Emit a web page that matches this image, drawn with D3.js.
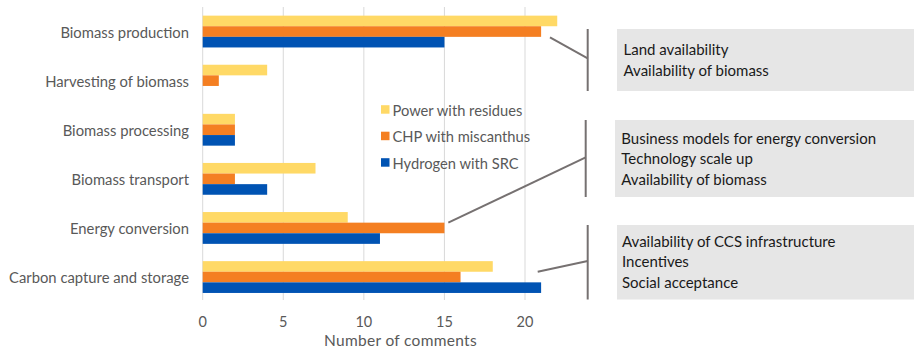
<!DOCTYPE html>
<html>
<head>
<meta charset="utf-8">
<script src="https://cdn.jsdelivr.net/npm/d3@7"></script>
<style>
  html, body { margin: 0; padding: 0; background: #fff; }
  svg { display: block; }
  text { font-family: Lato, "Open Sans", sans-serif; }
</style>
</head>
<body>
<svg id="chart" width="914" height="348"></svg>
<script>
// ---- data ----
const categories = ["Biomass production", "Harvesting of biomass", "Biomass processing",
                    "Biomass transport", "Energy conversion", "Carbon capture and storage"];
const seriesNames = ["Power with residues", "CHP with miscanthus", "Hydrogen with SRC"];
const powerResidues = [22, 4, 2, 7, 9, 18];
const chpMiscanthus = [21, 1, 2, 2, 15, 16];
const hydrogenSRC   = [15, 0, 2, 4, 11, 21];
const xTicks = [0, 5, 10, 15, 20];
const xTitle = "Number of comments";
const noteGroup1 = ["Land availability", "Availability of biomass"];
const noteGroup2 = ["Business models for energy conversion", "Technology scale up", "Availability of biomass"];
const noteGroup3 = ["Availability of CCS infrastructure", "Incentives", "Social acceptance"];

// ---- layout ----
const colors = ["#FFD966", "#F47F22", "#0053B3"];
const series = [powerResidues, chpMiscanthus, hydrogenSRC];
const svg = d3.select("#chart");

const x = d3.scaleLinear().domain([0, 20]).range([202.7, 525]);
const y = d3.scaleBand().domain(categories).range([7, 301.6]).paddingInner(0.352).paddingOuter(0.176);
const ySub = d3.scaleBand().domain(d3.range(3)).range([0, y.bandwidth()]);

// gridlines
svg.append("g").selectAll("line").data(xTicks).join("line")
  .attr("x1", d => x(d)).attr("x2", d => x(d))
  .attr("y1", 7).attr("y2", 300)
  .attr("stroke", "#d9d9d9").attr("stroke-width", 1);

// bars
const groups = svg.append("g").selectAll("g").data(categories).join("g")
  .attr("transform", c => `translate(0,${y(c)})`);
groups.selectAll("rect").data((c, i) => series.map((s, k) => ({k, v: s[i]}))).join("rect")
  .attr("x", x(0))
  .attr("y", d => ySub(d.k))
  .attr("width", d => Math.max(0, x(d.v) - x(0)))
  .attr("height", ySub.bandwidth())
  .attr("fill", d => colors[d.k]);

// x tick labels
svg.append("g").selectAll("text").data(xTicks).join("text")
  .attr("x", d => x(d)).attr("y", 321)
  .attr("text-anchor", "middle").attr("dominant-baseline", "central")
  .attr("font-size", 14.5).attr("fill", "#595959")
  .text(d => d);

// axis title
svg.append("text").attr("x", 400.5).attr("y", 339.5)
  .attr("text-anchor", "middle").attr("dominant-baseline", "central")
  .attr("font-size", 15.5).attr("letter-spacing", 0.3).attr("fill", "#595959").text(xTitle);

// category labels
svg.append("g").selectAll("text").data(categories).join("text")
  .attr("x", 189).attr("y", c => y(c) + y.bandwidth() / 2)
  .attr("text-anchor", "end").attr("dominant-baseline", "central")
  .attr("font-size", 14.8).attr("fill", "#595959")
  .text(c => c);

// legend
const lg = svg.append("g").selectAll("g").data(seriesNames).join("g")
  .attr("transform", (d, i) => `translate(381,${109.7 + i * 26.5})`);
lg.append("rect").attr("x", 0).attr("y", -4.5).attr("width", 8.5).attr("height", 8.5)
  .attr("fill", (d, i) => colors[i]);
lg.append("text").attr("x", 11.5).attr("y", 0).attr("dominant-baseline", "central")
  .attr("font-size", 14.7).attr("fill", "#595959").text(d => d);

// annotations
const notes = [
  {lines: noteGroup1, boxX: 617, boxY: 29, boxH: 62, brX: 587.7, from: [550, 37.3], to: 58.3, textX: 623.5, textY: 49.3},
  {lines: noteGroup2, boxX: 615, boxY: 120, boxH: 77, brX: 585.7, from: [448.3, 222.7], to: 157.3, textX: 621.3, textY: 138},
  {lines: noteGroup3, boxX: 617, boxY: 225, boxH: 74.5, brX: 587.7, from: [537.7, 271.7], to: 261, textX: 622, textY: 240.7}
];
const ng = svg.append("g").selectAll("g").data(notes).join("g");
ng.append("rect").attr("x", d => d.boxX).attr("y", d => d.boxY)
  .attr("width", d => 914 - d.boxX).attr("height", d => d.boxH).attr("fill", "#e6e6e6");
ng.append("line").attr("x1", d => d.brX).attr("x2", d => d.brX)
  .attr("y1", d => d.boxY).attr("y2", d => d.boxY + d.boxH)
  .attr("stroke", "#767171").attr("stroke-width", 2);
ng.append("line").attr("x1", d => d.from[0]).attr("y1", d => d.from[1])
  .attr("x2", d => d.brX).attr("y2", d => d.to)
  .attr("stroke", "#767171").attr("stroke-width", 2);
ng.each(function(d) {
  d3.select(this).selectAll("text.n").data(d.lines).join("text").attr("class", "n")
    .attr("x", d.textX).attr("y", (t, i) => d.textY + i * 20.4)
    .attr("dominant-baseline", "central")
    .attr("font-size", 15).attr("fill", "#1a1a1a").text(t => t);
});
</script>
</body>
</html>
